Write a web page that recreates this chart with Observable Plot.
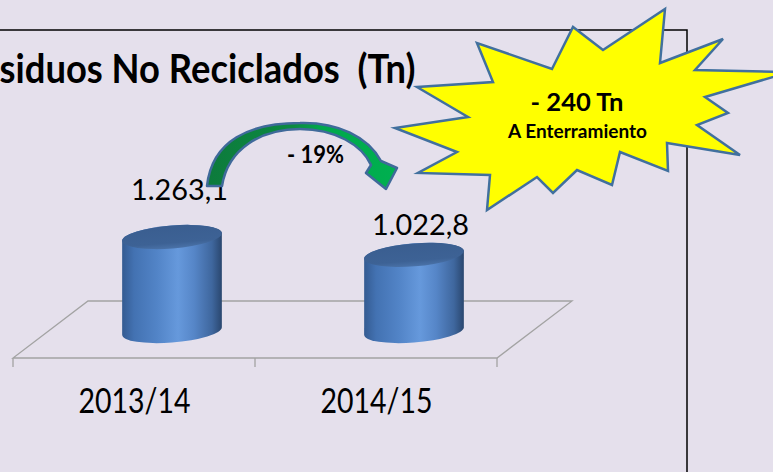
<!DOCTYPE html>
<html><head><meta charset="utf-8">
<script src="https://cdn.jsdelivr.net/npm/d3@7"></script>
<script src="https://cdn.jsdelivr.net/npm/@observablehq/plot@0.6"></script>
<style>
html,body{margin:0;padding:0;background:#E5E0EC;overflow:hidden;}
#chart svg{display:block;}
</style></head><body><div id="chart"></div>
<script>
// ---- data ----
const periods = ["2013/14", "2014/15"];
const tonnes = [1263.1, 1022.8];
const valueLabels = ["1.263,1", "1.022,8"];
const titleText = "siduos No Reciclados  (Tn)";
const changeText = "- 19%";
const burstMain = "- 240 Tn";
const burstSub = "A Enterramiento";

const data = periods.map((p, i) => ({period: p, value: tonnes[i], label: valueLabels[i]}));

const NS = "http://www.w3.org/2000/svg";
function el(tag, attrs, parent) {
  const e = document.createElementNS(NS, tag);
  for (const k in attrs) e.setAttribute(k, attrs[k]);
  if (parent) parent.appendChild(e);
  return e;
}

const FLOOR_DX = 75, FLOOR_DY = -57;   // floor depth
const CYL_DX = 38, CYL_DY = -27;       // cylinders sit mid-depth
const RX = 50, RY = 11.5, TILT = -4.6; // cylinder cap ellipse

function sceneMark(index, scales) {
  const x = scales.x, y = scales.y;
  const step = x.step ? x.step() : 242.5;
  const g = el("g", {});
  const defs = el("defs", {}, g);
  const lg = el("linearGradient", {id: "cylBody", x1: "0", x2: "1", y1: "0", y2: "0"}, defs);
  [[0, "#345B91"], [0.12, "#4372B2"], [0.35, "#5284C7"], [0.56, "#6699DC"], [0.72, "#5686C8"], [0.9, "#3F679E"], [1, "#2A476F"]]
    .forEach(([o, c]) => el("stop", {offset: o, "stop-color": c}, lg));
  const tg = el("linearGradient", {id: "cylTop", x1: "0", x2: "0", y1: "0", y2: "1"}, defs);
  [[0, "#3A5E90"], [0.75, "#3D6295"], [1, "#4A72A8"]].forEach(([o, c]) => el("stop", {offset: o, "stop-color": c}, tg));

  // frame border
  el("path", {d: "M-5,30H687V480", fill: "none", stroke: "#000", "stroke-width": 1.5}, g);

  // 3D floor
  const y0 = y(0);
  const xL = x(periods[0]) - step / 2, xR = x(periods[periods.length - 1]) + step / 2;
  el("path", {d: `M${xL},${y0}L${xR},${y0}L${xR + FLOOR_DX},${y0 + FLOOR_DY}L${xL + FLOOR_DX},${y0 + FLOOR_DY}Z`,
    fill: "none", stroke: "#A3A3A3", "stroke-width": 1.3}, g);
  for (let i = 0; i <= periods.length; i++) {
    const tx = xL + i * step;
    el("line", {x1: tx, x2: tx, y1: y0, y2: y0 + 9, stroke: "#A3A3A3", "stroke-width": 1.3}, g);
  }

  // cylinders
  const th = TILT * Math.PI / 180;
  const xe = Math.sqrt(RX * RX * Math.cos(th) ** 2 + RY * RY * Math.sin(th) ** 2);
  const ye = (RX * RX - RY * RY) * Math.sin(th) * Math.cos(th) / xe;
  data.forEach(d => {
    const cx = x(d.period) + CYL_DX;
    const cb = y(0) + CYL_DY, ct = y(d.value) + CYL_DY;
    const p = `M${cx - xe},${ct - ye}L${cx - xe},${cb - ye}` +
      `A${RX},${RY},${TILT},0,0,${cx + xe},${cb + ye}` +
      `L${cx + xe},${ct + ye}A${RX},${RY},${TILT},0,0,${cx - xe},${ct - ye}Z`;
    el("path", {d: p, fill: "url(#cylBody)"}, g);
    el("ellipse", {cx, cy: ct, rx: RX, ry: RY, transform: `rotate(${TILT},${cx},${ct})`, fill: "url(#cylTop)"}, g);
  });
  return g;
}

function arrowMark() {
  const g = el("g", {});
  const defs = el("defs", {}, g);
  const ag = el("linearGradient", {id: "arrowFill", x1: "0", x2: "1", y1: "0", y2: "0"}, defs);
  [[0, "#0D7A3C"], [0.45, "#0B8A40"], [0.6, "#00A84B"], [1, "#00B050"]].forEach(([o, c]) => el("stop", {offset: o, "stop-color": c}, ag));
  const d = "M207,186C212,140 250,123 300,123C338,122 368,137 381,161" +
    "L397,168L386,189L366,173L371,165" +
    "C362,145 335,129 300,129C262,129 228,148 222,186Z";
  el("path", {d, fill: "url(#arrowFill)", stroke: "#3F6A9A", "stroke-width": 2.5, "stroke-linejoin": "round"}, g);
  return g;
}

function burstMark() {
  const pts = [[665,9],[660,63],[723,39],[695,70],[790,72],[705,97],[728,113],[697,125],[740,155],[667,143],
    [668,171],[620,152],[612,185],[577,170],[553,193],[537,177],[487,210],[490,175],[418,173],[457,152],
    [395,128],[468,117],[417,87],[493,82],[477,43],[552,69],[573,27],[603,50]];
  const g = el("g", {});
  el("path", {d: "M" + pts.map(p => p.join(",")).join("L") + "Z", fill: "#FFFF00", stroke: "#41709E",
    "stroke-width": 2.5, "stroke-linejoin": "miter"}, g);
  return g;
}

const chart = Plot.plot({
  width: 773, height: 472, margin: 0,
  style: {background: "#E5E0EC", fontFamily: "Lato, 'Open Sans', sans-serif", overflow: "hidden", color: "#000"},
  x: {type: "point", domain: periods, range: [12, 497], padding: 0.5, axis: null},
  y: {type: "linear", domain: [0, 1500], range: [358, 358 - 1500 * 94 / 1263.1], axis: null},
  marks: [
    sceneMark,
    Plot.text(data, {x: "period", y: 0, text: "period", lineAnchor: "bottom", dy: 54, fontSize: 35, fill: "#000"}),
    Plot.text(data.slice(0, 1), {x: "period", y: "value", text: "label", lineAnchor: "bottom", dx: 45, dy: -65, fontSize: 29, fill: "#000"}),
    Plot.text(data.slice(1, 2), {x: "period", y: "value", text: "label", lineAnchor: "bottom", dx: 44, dy: -47, fontSize: 29, fill: "#000"}),
    Plot.text([titleText], {frameAnchor: "top-left", text: d => d, textAnchor: "start", lineAnchor: "bottom", dx: -1, dy: 82, fontSize: 40, fontWeight: "bold", fill: "#000"}),
    arrowMark,
    Plot.text([changeText], {frameAnchor: "top-left", text: d => d, textAnchor: "middle", lineAnchor: "bottom", dx: 315, dy: 162, fontSize: 24, fontWeight: "bold", fill: "#000"}),
    burstMark,
    Plot.text([burstMain], {frameAnchor: "top-left", text: d => d, textAnchor: "middle", lineAnchor: "bottom", dx: 576.5, dy: 110, fontSize: 24, fontWeight: "bold", fill: "#000"}),
    Plot.text([burstSub], {frameAnchor: "top-left", text: d => d, textAnchor: "middle", lineAnchor: "bottom", dx: 577, dy: 137, fontSize: 18, fontWeight: "bold", fill: "#000"})
  ]
});

const textLengths = {};
textLengths[titleText] = 416;
periods.forEach(p => textLengths[p] = 112);
valueLabels.forEach(v => textLengths[v] = 97);
textLengths[changeText] = 57;
textLengths[burstMain] = 93;
textLengths[burstSub] = 139;
d3.select(chart).selectAll("text").each(function() {
  const t = this.textContent;
  if (textLengths[t]) {
    this.setAttribute("textLength", textLengths[t]);
    this.setAttribute("lengthAdjust", "spacingAndGlyphs");
    this.style.whiteSpace = "pre";
  }
});
document.getElementById("chart").appendChild(chart);
</script></body></html>
